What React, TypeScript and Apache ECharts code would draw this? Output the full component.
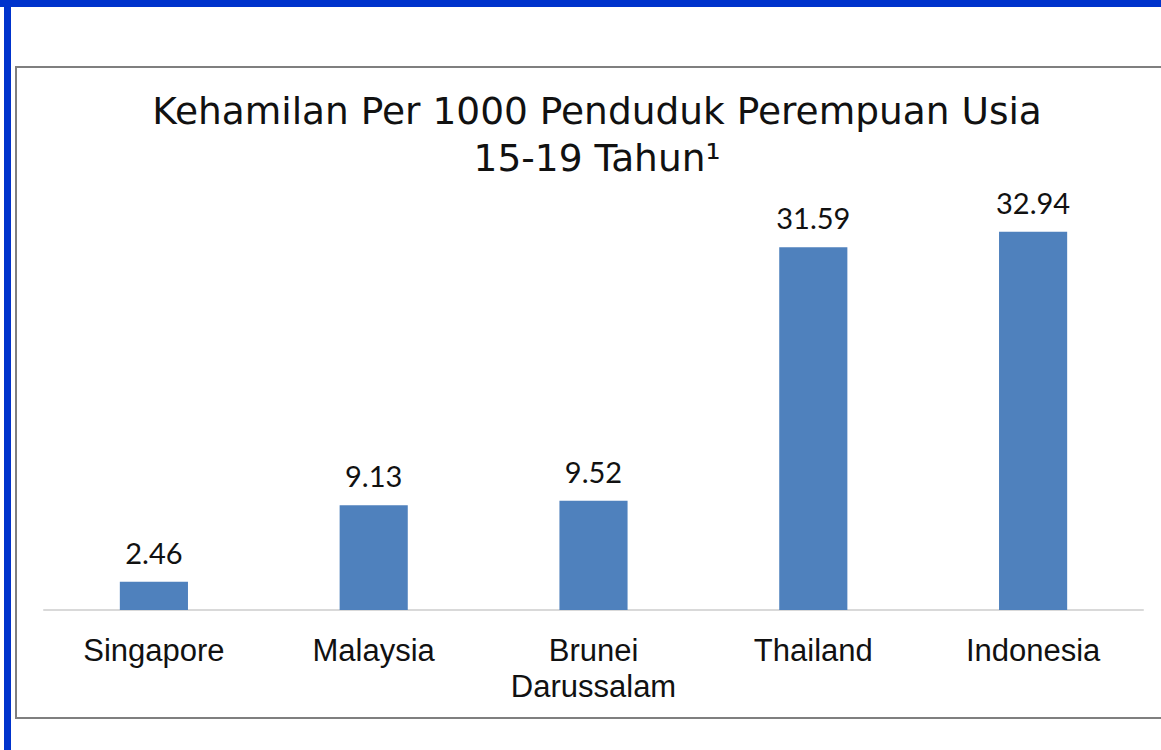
import React, { useEffect, useRef } from "react";
import * as echarts from "echarts";

const categories = ["Singapore", "Malaysia", "Brunei\nDarussalam", "Thailand", "Indonesia"];
const values = [2.46, 9.13, 9.52, 31.59, 32.94];
const titleText = "Kehamilan Per 1000 Penduduk Perempuan Usia\n15-19 Tahun\u00b9";

export default function App() {
  const ref = useRef<HTMLDivElement>(null);
  useEffect(() => {
    if (!ref.current) return;
    const chart = echarts.init(ref.current, null, { renderer: "svg" });
    chart.setOption({
      animation: false,
      title: {
        text: titleText,
        left: 592,
        top: 82,
        textAlign: "center",
        textStyle: {
          fontFamily: "DejaVu Sans",
          fontWeight: "normal",
          fontSize: 37.5,
          lineHeight: 47,
          color: "#111111",
        },
      },
      grid: { left: 44, right: 18, top: 208, bottom: 140, containLabel: false },
      xAxis: {
        type: "category",
        data: categories,
        axisLine: { lineStyle: { color: "#d9d9d9", width: 2 } },
        axisTick: { show: false },
        axisLabel: {
          fontFamily: "Liberation Sans",
          fontSize: 31,
          color: "#111111",
          margin: 22,
          lineHeight: 36,
          interval: 0,
        },
      },
      yAxis: {
        type: "value",
        min: 0,
        max: 35,
        show: false,
        splitLine: { show: false },
      },
      series: [
        {
          type: "bar",
          data: values,
          barWidth: "31%",
          itemStyle: { color: "#4f81bd" },
          label: {
            show: true,
            position: "top",
            distance: 15,
            fontFamily: "Lato",
            fontSize: 29,
            color: "#111111",
            formatter: (p: any) => p.value.toFixed(2),
          },
        },
      ],
    });
    return () => chart.dispose();
  }, []);

  return (
    <div style={{ position: "absolute", left: 0, top: 0, width: 1161, height: 750, background: "#ffffff", overflow: "hidden" }}>
      <div style={{ position: "absolute", left: 0, top: 0, width: 1161, height: 7, background: "#0033cc" }} />
      <div style={{ position: "absolute", left: 4, top: 0, width: 7, height: 750, background: "#0033cc" }} />
      <div
        style={{
          position: "absolute",
          left: 15,
          top: 66,
          width: 1161,
          height: 653,
          border: "2px solid #7f7f7f",
          boxSizing: "border-box",
        }}
      />
      <div ref={ref} style={{ position: "absolute", left: 0, top: 0, width: 1161, height: 750 }} />
    </div>
  );
}
